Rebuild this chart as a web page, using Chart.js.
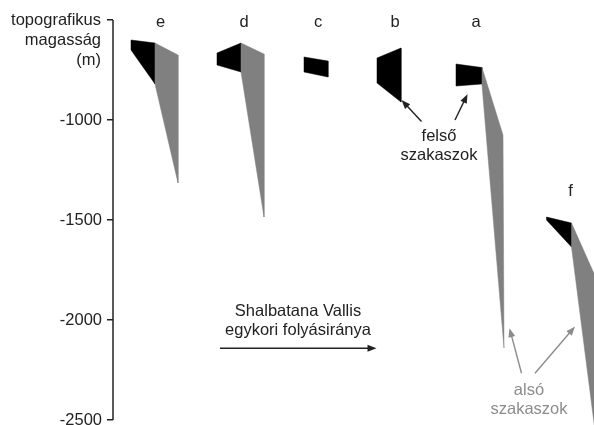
<!DOCTYPE html>
<html>
<head>
<meta charset="utf-8">
<title>Shalbatana Vallis - topografikus magasság</title>
<script src="https://cdn.jsdelivr.net/npm/chart.js@4"></script>
<style>
  html, body { margin: 0; padding: 0; background: #fff; }
</style>
</head>
<body>
<canvas id="chart" width="594" height="425"></canvas>
<script>
// y: topografikus magasság (m); x: helyzet a völgy mentén (relatív egység)
const yTicks = [-500, -1000, -1500, -2000, -2500];
const yTitle = ['topografikus', 'magasság', '(m)'];

// szakaszok betűjelei
const sectionNames = ['e', 'd', 'c', 'b', 'a', 'f'];
const sectionLabelX = [9.5, 26.2, 41, 56.4, 72.6, 91.5];
const sectionLabelY = [-510, -510, -510, -510, -510, -1358];

// felső szakaszok (fekete) és alsó szakaszok (szürke) körvonalai
const upperE_x = [3.6, 8.4, 8.4, 3.6];
const upperE_y = [-600, -615, -820, -650];
const lowerE_x = [8.4, 13, 13, 8.4];
const lowerE_y = [-615, -675, -1315, -820];

const upperD_x = [20.8, 25.6, 25.6, 20.8];
const upperD_y = [-665, -615, -760, -725];
const lowerD_x = [25.6, 30.2, 30.2, 25.6];
const lowerD_y = [-615, -670, -1485, -760];

const upperC_x = [38.2, 43, 43, 38.2];
const upperC_y = [-685, -705, -785, -760];

const upperB_x = [52.8, 57.6, 57.6, 52.8];
const upperB_y = [-690, -640, -910, -815];

const upperA_x = [68.6, 73.8, 73.8, 68.6];
const upperA_y = [-720, -738, -820, -830];
const lowerA_x = [73.8, 78, 78.2, 73.8];
const lowerA_y = [-738, -1075, -2140, -825];

const upperF_x = [86.7, 91.7, 91.7, 86.7];
const upperF_y = [-1485, -1515, -1635, -1500];
const lowerF_x = [91.7, 97.4, 97.4, 91.7];
const lowerF_y = [-1515, -1835, -2750, -1635];

// feliratok és nyilak
const noteLines = [
  ['felső', 'szakaszok'],
  ['alsó', 'szakaszok'],
  ['Shalbatana Vallis', 'egykori folyásiránya']
];
const noteX = [65.2, 83.2, 37];
const noteY = [-1080, -2350, -1955];
const noteColor = ['#222', '#8c8c8c', '#222'];

const arrowFromX = [61.7, 68.4, 81.7, 84.4, 21.4];
const arrowFromY = [-1008, -1000, -2266, -2266, -2141];
const arrowToX = [57.7, 70.9, 79.3, 92.4, 52.7];
const arrowToY = [-900, -871, -2041, -2033, -2141];
const arrowColor = ['#222', '#222', '#8c8c8c', '#8c8c8c', '#222'];

const BLACK = '#000000';
const GRAY = '#808080';
const FONT = '"Liberation Sans", Arial, sans-serif';

function shape(xs, ys, color) {
  const pts = xs.map((x, i) => ({ x: x, y: ys[i] }));
  pts.push(pts[0]);
  return {
    data: pts,
    fill: 'shape',
    backgroundColor: color,
    borderColor: color,
    borderWidth: 0.5,
    pointRadius: 0,
    tension: 0
  };
}

const datasets = [
  shape(lowerE_x, lowerE_y, GRAY),
  shape(upperE_x, upperE_y, BLACK),
  shape(lowerD_x, lowerD_y, GRAY),
  shape(upperD_x, upperD_y, BLACK),
  shape(upperC_x, upperC_y, BLACK),
  shape(upperB_x, upperB_y, BLACK),
  shape(lowerA_x, lowerA_y, GRAY),
  shape(upperA_x, upperA_y, BLACK),
  shape(lowerF_x, lowerF_y, GRAY),
  shape(upperF_x, upperF_y, BLACK)
];

function drawArrow(ctx, x1, y1, x2, y2, color) {
  const ang = Math.atan2(y2 - y1, x2 - x1);
  const len = 9, half = 3.5;
  ctx.save();
  ctx.strokeStyle = color;
  ctx.fillStyle = color;
  ctx.lineWidth = 1.4;
  ctx.beginPath();
  ctx.moveTo(x1, y1);
  ctx.lineTo(x2 - Math.cos(ang) * len * 0.8, y2 - Math.sin(ang) * len * 0.8);
  ctx.stroke();
  ctx.beginPath();
  ctx.moveTo(x2, y2);
  ctx.lineTo(x2 - Math.cos(ang) * len - Math.sin(ang) * half, y2 - Math.sin(ang) * len + Math.cos(ang) * half);
  ctx.lineTo(x2 - Math.cos(ang) * len + Math.sin(ang) * half, y2 - Math.sin(ang) * len - Math.cos(ang) * half);
  ctx.closePath();
  ctx.fill();
  ctx.restore();
}

const notesPlugin = {
  id: 'notes',
  afterDraw(chart) {
    const ctx = chart.ctx;
    const xs = chart.scales.x;
    const ys = chart.scales.y;
    const left = chart.chartArea.left;

    // tengely vonala -500 és -2500 között
    ctx.save();
    ctx.strokeStyle = '#222';
    ctx.lineWidth = 1.5;
    ctx.beginPath();
    ctx.moveTo(left, ys.getPixelForValue(yTicks[0]));
    ctx.lineTo(left, ys.getPixelForValue(yTicks[yTicks.length - 1]));
    ctx.stroke();

    // tengelycím a legfelső osztás helyén
    ctx.font = '16.5px ' + FONT;
    ctx.fillStyle = '#222';
    ctx.textAlign = 'right';
    ctx.textBaseline = 'middle';
    const top = ys.getPixelForValue(yTicks[0]);
    yTitle.forEach((t, i) => ctx.fillText(t, left - 12, top + i * 20));

    // betűjelek
    ctx.textAlign = 'center';
    sectionNames.forEach((n, i) => {
      ctx.fillText(n, xs.getPixelForValue(sectionLabelX[i]), ys.getPixelForValue(sectionLabelY[i]));
    });

    // feliratok
    noteLines.forEach((lines, i) => {
      ctx.fillStyle = noteColor[i];
      const px = xs.getPixelForValue(noteX[i]);
      const py = ys.getPixelForValue(noteY[i]);
      lines.forEach((t, j) => ctx.fillText(t, px, py + j * 19.5));
    });
    ctx.restore();

    // nyilak
    arrowFromX.forEach((x, i) => {
      drawArrow(ctx,
        xs.getPixelForValue(x), ys.getPixelForValue(arrowFromY[i]),
        xs.getPixelForValue(arrowToX[i]), ys.getPixelForValue(arrowToY[i]),
        arrowColor[i]);
    });
  }
};

new Chart(document.getElementById('chart'), {
  type: 'line',
  data: { datasets: datasets },
  options: {
    responsive: false,
    animation: false,
    layout: { padding: 0 },
    plugins: { legend: { display: false }, tooltip: { enabled: false } },
    scales: {
      x: { type: 'linear', display: false, min: 0, max: 96.2 },
      y: {
        type: 'linear',
        min: -2525,
        max: -400,
        afterFit(scale) {
          scale.width = 113;
          scale.paddingTop = 0;
          scale.paddingBottom = 0;
        },
        afterBuildTicks(scale) {
          scale.ticks = yTicks.map(v => ({ value: v }));
        },
        border: { display: false },
        grid: { drawOnChartArea: false, drawTicks: true, tickLength: 6, color: '#222', lineWidth: 1.5 },
        ticks: {
          padding: 5,
          color: '#222',
          font: { family: FONT, size: 16.5 },
          callback: v => (v === yTicks[0] ? '' : String(v))
        }
      }
    }
  },
  plugins: [notesPlugin]
});
</script>
</body>
</html>
